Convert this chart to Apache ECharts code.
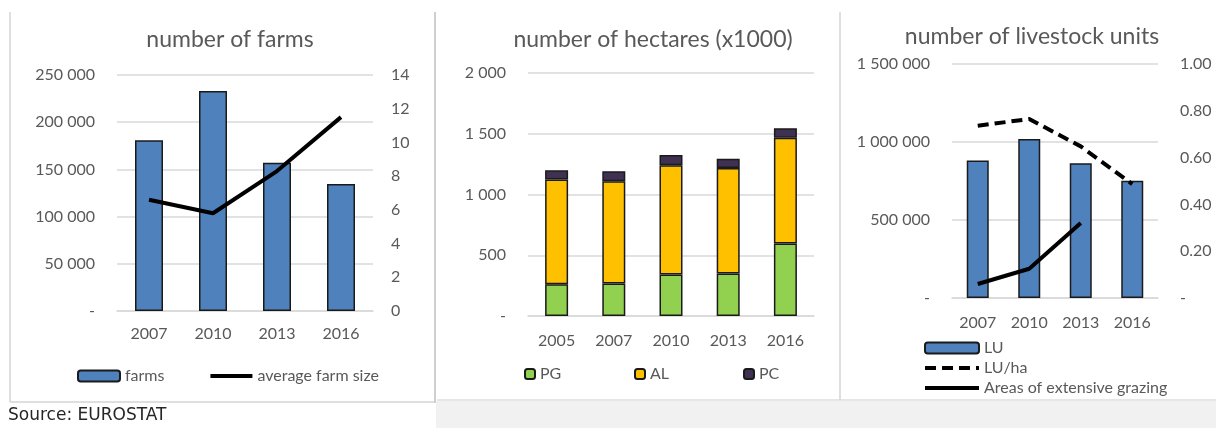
<!DOCTYPE html>
<html>
<head>
<meta charset="utf-8">
<script src="https://cdn.jsdelivr.net/npm/echarts@6/dist/echarts.min.js"></script>
<style>
  html, body { margin: 0; padding: 0; background: #fff; }
  #main { width: 1216px; height: 428px; }
</style>
</head>
<body>
<div id="main"></div>
<script>
// farms panel
const farmYears = ['2007', '2010', '2013', '2016']
const farms = [181000, 233000, 157000, 134500]
const avgFarmSize = [6.6, 5.8, 8.3, 11.5]

// hectares panel (x1000)
const haYears = ['2005', '2007', '2010', '2013', '2016']
const pg = [261, 267, 341, 349, 596]
const al = [862, 842, 899, 869, 872]
const pc = [76, 82, 85, 77, 77]

// livestock panel
const luYears = ['2007', '2010', '2013', '2016']
const lu = [882000, 1019000, 863000, 752000]
const luPerHa = [0.736, 0.765, 0.648, 0.487]
const extGrazing = [0.06, 0.125, 0.32, null]

const txt = '#595959'
const gridColor = '#d9d9d9'
const font = 'Lato, "Open Sans", sans-serif'

function spaced(v) {
    if (v === 0) return '-'
    return String(v).replace(/\B(?=(\d{3})+(?!\d))/g, ' ')
}

function yAx(gridIndex, max, interval, margin, fmt, split) {
    return {
        type: 'value', gridIndex: gridIndex, min: 0, max: max, interval: interval,
        axisLine: { show: false }, axisTick: { show: false },
        splitLine: { show: split, lineStyle: { color: gridColor, width: 1.5 } },
        axisLabel: { color: txt, fontSize: 16, fontFamily: font, margin: margin, formatter: fmt }
    }
}

function xAx(gridIndex, data, margin) {
    return {
        type: 'category', gridIndex: gridIndex, data: data,
        axisLine: { lineStyle: { color: gridColor, width: 1.5 } },
        axisTick: { show: false },
        axisLabel: { color: txt, fontSize: 16, fontFamily: font, margin: margin }
    }
}

const titleStyle = { color: txt, fontSize: 23, fontWeight: 'normal', fontFamily: font }
const legendText = { color: txt, fontSize: 16, fontFamily: font }
const border = { color: '#1a1a1a', width: 1.5 }
// hide the round marker ECharts puts on line legend icons, keep the thick stroke
const noMarker = { color: 'rgba(0,0,0,0)', borderColor: 'rgba(0,0,0,0)', borderWidth: 0 }

let chart = echarts.init(document.getElementById('main'), null, { renderer: 'canvas' })

const option = {
    backgroundColor: '#fff',
    animation: false,
    graphic: [
        { type: 'rect', shape: { x: 436, y: 401, width: 780, height: 27 }, style: { fill: '#f1f1f1' }, z: -10 },
        { type: 'line', shape: { x1: 10, y1: 12, x2: 10, y2: 402 }, style: { stroke: '#d4d4d4', lineWidth: 1.5 }, z: -5 },
        { type: 'line', shape: { x1: 10, y1: 402, x2: 435, y2: 402 }, style: { stroke: '#d4d4d4', lineWidth: 1.5 }, z: -5 },
        { type: 'line', shape: { x1: 435, y1: 12, x2: 435, y2: 403 }, style: { stroke: '#cfcfcf', lineWidth: 2 }, z: -5 },
        { type: 'line', shape: { x1: 437, y1: 400, x2: 1216, y2: 400 }, style: { stroke: '#dedede', lineWidth: 1.5 }, z: -5 },
        { type: 'line', shape: { x1: 840, y1: 12, x2: 840, y2: 400 }, style: { stroke: '#d4d4d4', lineWidth: 1.5 }, z: -5 },
        {
            type: 'text', left: 8, top: 407,
            style: { text: 'Source: EUROSTAT', fill: '#262626', font: '17px "DejaVu Sans", sans-serif' }
        }
    ],
    title: [
        { text: 'number of farms', left: 225, top: 23, textAlign: 'center', textStyle: titleStyle },
        { text: 'number of hectares (x1000)', left: 648, top: 23, textAlign: 'center', textStyle: titleStyle },
        { text: 'number of livestock units', left: 1027, top: 20, textAlign: 'center', textStyle: titleStyle }
    ],
    legend: [
        {
            data: ['farms', { name: 'average farm size', itemStyle: noMarker, lineStyle: { width: 4 } }],
            left: 72, top: 363, itemWidth: 42, itemHeight: 11, itemGap: 44, textStyle: legendText
        },
        { data: ['PG'], left: 519, top: 361, itemWidth: 10, itemHeight: 10, textStyle: legendText },
        { data: ['AL'], left: 629, top: 361, itemWidth: 10, itemHeight: 10, textStyle: legendText },
        { data: ['PC'], left: 738, top: 361, itemWidth: 10, itemHeight: 10, textStyle: legendText },
        {
            data: [
                'LU',
                { name: 'LU/ha', itemStyle: noMarker, lineStyle: { width: 4, type: [11, 6] } },
                { name: 'Areas of extensive grazing', itemStyle: noMarker, lineStyle: { width: 4 } }
            ],
            orient: 'vertical', left: 918, top: 335, itemWidth: 54, itemHeight: 11, itemGap: 4, textStyle: legendText
        }
    ],
    grid: [
        { left: 117, top: 75, width: 256, height: 236 },
        { left: 528, top: 73, width: 286, height: 243 },
        { left: 952, top: 64, width: 206, height: 234 }
    ],
    xAxis: [
        xAx(0, farmYears, 15),
        xAx(1, haYears, 17),
        xAx(2, luYears, 17)
    ],
    yAxis: [
        yAx(0, 250000, 50000, 22, spaced, true),
        yAx(0, 14, 2, 18, v => String(v), false),
        yAx(1, 2000, 500, 22, spaced, true),
        yAx(2, 1500000, 500000, 22, spaced, true),
        yAx(2, 1, 0.2, 22, v => v === 0 ? '-' : v.toFixed(2), false)
    ],
    series: [
        {
            name: 'farms', type: 'bar', xAxisIndex: 0, yAxisIndex: 0, data: farms, barWidth: 28,
            itemStyle: { color: '#4f81bd', borderColor: border.color, borderWidth: border.width }
        },
        {
            name: 'average farm size', type: 'line', xAxisIndex: 0, yAxisIndex: 1, data: avgFarmSize,
            symbol: 'none', lineStyle: { color: '#000', width: 4 }, itemStyle: { color: '#000' }
        },
        {
            name: 'PG', type: 'bar', stack: 'ha', xAxisIndex: 1, yAxisIndex: 2, data: pg, barWidth: 23,
            itemStyle: { color: '#92d050', borderColor: border.color, borderWidth: border.width }
        },
        {
            name: 'AL', type: 'bar', stack: 'ha', xAxisIndex: 1, yAxisIndex: 2, data: al, barWidth: 23,
            itemStyle: { color: '#ffc000', borderColor: border.color, borderWidth: border.width }
        },
        {
            name: 'PC', type: 'bar', stack: 'ha', xAxisIndex: 1, yAxisIndex: 2, data: pc, barWidth: 23,
            itemStyle: { color: '#3f3151', borderColor: border.color, borderWidth: border.width }
        },
        {
            name: 'LU', type: 'bar', xAxisIndex: 2, yAxisIndex: 3, data: lu, barWidth: 22,
            itemStyle: { color: '#4f81bd', borderColor: border.color, borderWidth: border.width }
        },
        {
            name: 'LU/ha', type: 'line', xAxisIndex: 2, yAxisIndex: 4, data: luPerHa,
            symbol: 'none', lineStyle: { color: '#000', width: 4, type: [11, 6] }, itemStyle: { color: '#000' }
        },
        {
            name: 'Areas of extensive grazing', type: 'line', xAxisIndex: 2, yAxisIndex: 4, data: extGrazing,
            symbol: 'none', lineStyle: { color: '#000', width: 4 }, itemStyle: { color: '#000' }
        }
    ]
}

chart.setOption(option)
</script>
</body>
</html>
